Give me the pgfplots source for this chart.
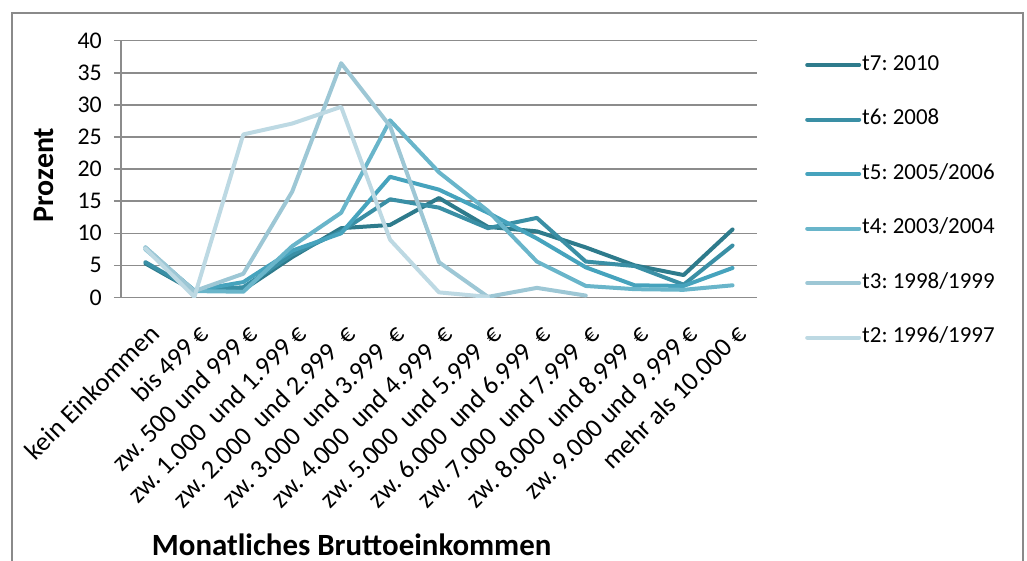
\documentclass[border=0pt]{standalone}
\usepackage{fontspec}
\setmainfont{Carlito}
\usepackage{pgfplots}
\pgfplotsset{compat=1.18}
\frenchspacing
\definecolor{cSeven}{HTML}{2E7B8C}
\definecolor{cSix}{HTML}{3A8FA5}
\definecolor{cFive}{HTML}{46A3BD}
\definecolor{cFour}{HTML}{69B5CA}
\definecolor{cThree}{HTML}{9DC7D5}
\definecolor{cTwo}{HTML}{BDD9E3}
\definecolor{gridgray}{HTML}{8C8C8C}
\definecolor{framegray}{HTML}{8A8A8A}
\begin{document}
\begin{tikzpicture}
\path[use as bounding box] (0,0) rectangle (1027bp,-561bp);
\draw[framegray, line width=1.2bp] (12bp,-562bp) -- (12bp,-13bp) -- (1023bp,-13bp) -- (1023bp,-562bp);
\begin{axis}[
  scale only axis, width=636bp, height=256.8bp,
  at={(121bp,-297.5bp)}, anchor=south west,
  xmin=-0.5, xmax=12.5, ymin=0, ymax=40,
  axis lines=left, axis line style={-, draw=gridgray, line width=1.5bp},
  ytick={0,5,...,40},
  xtick={0,...,12},
  xticklabels={kein Einkommen, bis 499 €, zw. 500 und 999 €, zw. 1.000\ \ und 1.999 €, zw. 2.000\ \ und 2.999\ \ €, zw. 3.000\ \ und 3.999\ \ €, zw. 4.000\ \ und 4.999\ \ €, zw. 5.000\ \ und 5.999\ \ €, zw. 6.000\ \ und 6.999\ \ €, zw. 7.000\ \ und 7.999\ \ €, zw. 8.000\ \ und 8.999\ \ €, zw. 9.000 und 9.999 €, mehr als 10.000 €},
  x tick style={draw=none},
  y tick style={draw=gridgray, line width=1.5bp},
  tick align=outside, major tick length=7bp,
  ymajorgrids, grid style={draw=gridgray, line width=1.5bp},
  /pgf/number format/assume math mode=true,
  yticklabel style={font=\fontsize{24}{28}\selectfont, anchor=east, inner sep=2bp, xshift=-10bp},
  xticklabel style={font=\fontsize{26.5}{31}\selectfont, rotate=45, anchor=east, inner sep=2bp, xshift=-9bp, yshift=-24bp},
  xlabel={Monatliches Bruttoeinkommen},
  xlabel style={font=\bfseries\fontsize{31}{36}\selectfont, at={(axis description cs:0.3627,-1.003)}, anchor=base},
  ylabel={Prozent},
  ylabel style={font=\bfseries\fontsize{30}{34}\selectfont, at={(axis description cs:-0.1219,0.477)}, anchor=center},
  legend cell align=left,
  legend image code/.code={\draw[#1, line width=4bp, line cap=round] (0bp,0bp) -- (52bp,0bp);},
  legend style={at={(axis description cs:1.0755,0.949)}, anchor=north west, draw=none, fill=none,
    font=\fontsize{23}{27}\selectfont, inner sep=0pt, row sep=32.5bp,
    nodes={text height=15bp, text depth=5bp, inner sep=1bp},
    /tikz/every even column/.append style={column sep=4bp}},
  every axis plot/.append style={line width=4bp, line join=round, line cap=round},
]
\addplot[cSeven] coordinates {(0,5.3) (1,1.0) (2,1.2) (3,6.3) (4,10.8) (5,11.3) (6,15.5) (7,11.0) (8,10.3) (9,7.8) (10,5.0) (11,3.5) (12,10.6)};
\addlegendentry{t7: 2010}
\addplot[cSix] coordinates {(0,5.5) (1,1.1) (2,1.6) (3,6.7) (4,10.3) (5,15.3) (6,14.0) (7,10.8) (8,12.4) (9,5.6) (10,4.9) (11,2.0) (12,8.1)};
\addlegendentry{t6: 2008}
\addplot[cFive] coordinates {(0,7.5) (1,1.1) (2,2.4) (3,7.3) (4,10.0) (5,18.8) (6,16.8) (7,13.2) (8,9.2) (9,4.7) (10,1.9) (11,1.8) (12,4.6)};
\addlegendentry{t5: 2005/2006}
\addplot[cFour] coordinates {(0,7.8) (1,1.0) (2,0.9) (3,8.0) (4,13.2) (5,27.6) (6,19.5) (7,13.5) (8,5.6) (9,1.8) (10,1.3) (11,1.2) (12,1.9)};
\addlegendentry{t4: 2003/2004}
\addplot[cThree] coordinates {(0,7.8) (1,1.0) (2,3.7) (3,16.5) (4,36.5) (5,26.7) (6,5.5) (7,0.1) (8,1.5) (9,0.3)};
\addlegendentry{t3: 1998/1999}
\addplot[cTwo] coordinates {(0,7.6) (1,0.1) (2,25.4) (3,27.1) (4,29.7) (5,9.0) (6,0.8) (7,0.1)};
\addlegendentry{t2: 1996/1997}
\end{axis}
\end{tikzpicture}
\end{document}
